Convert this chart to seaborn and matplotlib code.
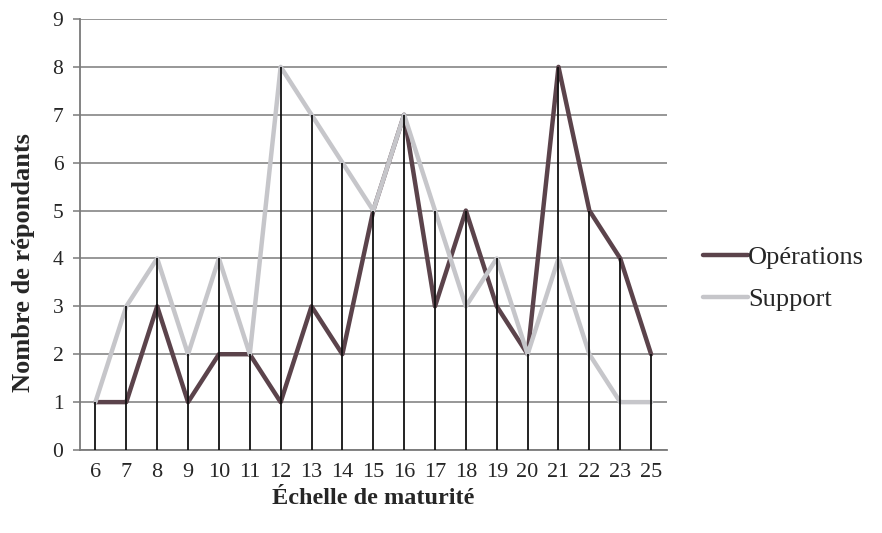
import numpy as np
import pandas as pd
import matplotlib
matplotlib.use("Agg")
import matplotlib.pyplot as plt
import seaborn as sns

# Maturity scale categories (24 is absent from the survey results)
echelle = ["6", "7", "8", "9", "10", "11", "12", "13", "14", "15",
           "16", "17", "18", "19", "20", "21", "22", "23", "25"]
operations = [1, 1, 3, 1, 2, 2, 1, 3, 2, 5, 7, 3, 5, 3, 2, 8, 5, 4, 2]
support = [1, 3, 4, 2, 4, 2, 8, 7, 6, 5, 7, 5, 3, 4, 2, 4, 2, 1, 1]
y_ticks = list(range(0, 10))

sns.set_theme(style="white")
plt.rcParams["font.family"] = ["Liberation Serif", "DejaVu Serif"]

pos = np.arange(len(echelle))
df = pd.concat([
    pd.DataFrame({"pos": pos, "n": operations, "serie": "Opérations"}),
    pd.DataFrame({"pos": pos, "n": support, "serie": "Support"}),
])

fig = plt.figure(figsize=(8.82, 5.33), dpi=100)
ax = fig.add_axes([0.0907, 0.1557, 0.665, 0.8087])

palette = {"Opérations": "#5b434b", "Support": "#c6c6ca"}
sns.lineplot(data=df, x="pos", y="n", hue="serie", palette=palette,
             linewidth=3.2, ax=ax, legend=True, zorder=3)

# Drop lines from the axis up to the highest series value
tops = np.maximum(operations, support)
ax.vlines(pos, 0, tops, colors="#111111", linewidth=1.3, zorder=4)

ax.set_xlim(-0.5, len(echelle) - 0.5)
ax.set_ylim(0, 9)
ax.set_yticks(y_ticks)
ax.set_yticklabels([str(v) for v in y_ticks], fontsize=15.5)
ax.set_xticks(pos)
ax.set_xticklabels(echelle, fontsize=16)

ax.yaxis.grid(True, color="#7a7a7a", linewidth=1.1, zorder=0)
ax.xaxis.grid(False)
ax.set_axisbelow(True)

for side in ["top", "right"]:
    ax.spines[side].set_visible(False)
for side in ["left", "bottom"]:
    ax.spines[side].set_color("#7a7a7a")
    ax.spines[side].set_linewidth(1.3)

ax.tick_params(axis="y", which="both", left=True, length=5, width=1.1,
               color="#7a7a7a", pad=7)
ax.tick_params(axis="x", which="both", bottom=False, pad=3)

ax.set_xlabel("Échelle de maturité", fontsize=17.5, fontweight="bold", labelpad=5)
ax.set_ylabel("Nombre de répondants", fontsize=19, fontweight="bold")
ax.yaxis.set_label_coords(-0.076, 0.436)

handles, labels = ax.get_legend_handles_labels()
ax.legend(handles, labels, loc="center left", bbox_to_anchor=(0.797, 0.478),
          bbox_transform=fig.transFigure, frameon=False, fontsize=19,
          handlelength=1.7, handletextpad=0.0, labelspacing=0.7,
          borderpad=0.0, borderaxespad=0.0)

fig.savefig("out.png", dpi=100)
